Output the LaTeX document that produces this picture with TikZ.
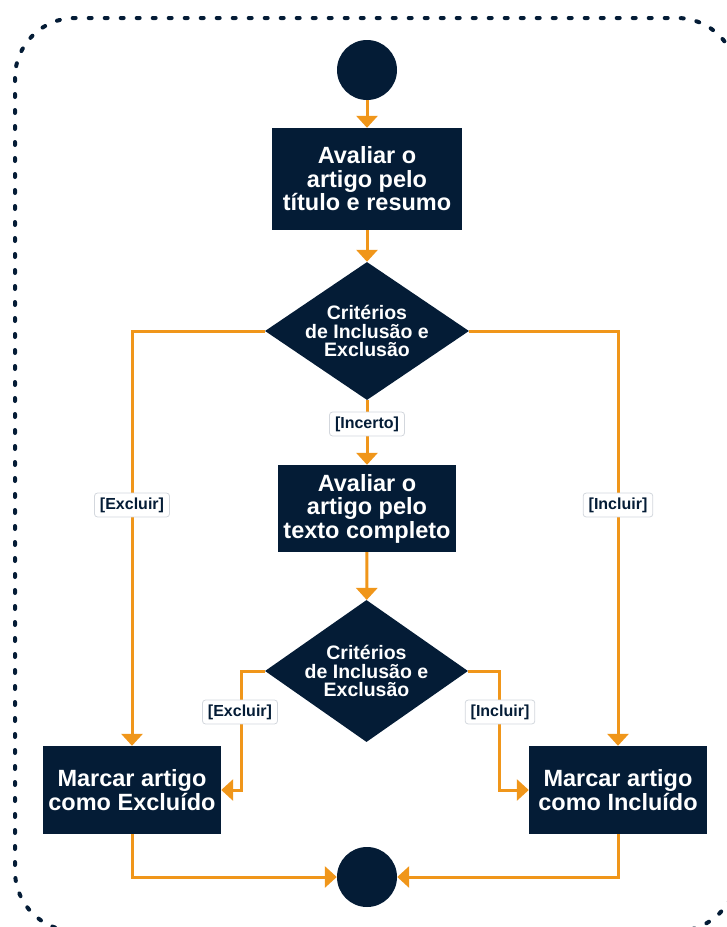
\documentclass[tikz,border=0pt]{standalone}
\usepackage{fontspec}
\setmainfont{Liberation Sans}
\usetikzlibrary{arrows.meta,shapes.geometric}
\definecolor{navy}{HTML}{041C36}
\definecolor{flow}{HTML}{F0961A}
\definecolor{tagedge}{HTML}{D3D7DD}
\begin{document}
\begin{tikzpicture}[x=1pt,y=-1pt,
  act/.style={rectangle, fill=navy, text=white, align=center, inner sep=0pt,
    font=\bfseries\fontsize{23.5}{23.5}\selectfont},
  decision/.style={diamond, fill=navy, inner sep=0pt},
  dtext/.style={text=white, align=center, inner sep=0pt,
    font=\bfseries\fontsize{19.5}{18.5}\selectfont},
  terminal/.style={circle, fill=navy, minimum size=60pt, inner sep=0pt},
  link/.style={draw=flow, line width=3pt, -{Triangle[length=12pt,width=21pt]}},
  tag/.style={fill=white, draw=tagedge, line width=0.8pt, rounded corners=3pt,
    text=navy, inner xsep=5.5pt, inner ysep=4.5pt,
    font=\bfseries\fontsize{16}{16}\selectfont}]
\useasboundingbox (0,0) rectangle (727,927);

% outer dashed frame
\draw[navy, line width=4pt, dash pattern=on 3pt off 13pt, line cap=round,
  rounded corners=60pt] (15,18) rectangle (737,931);

% nodes
\node[terminal] (start) at (367,70) {};
\node[act, minimum width=190pt, minimum height=102pt] (a1) at (367,179)
  {Avaliar o\\artigo pelo\\título e resumo};
\node[decision, minimum width=204pt, minimum height=138pt] (d1) at (367,331) {};
\node[dtext] (d1t) at (d1) {Critérios\\de Inclusão e\\Exclusão};
\node[act, minimum width=178pt, minimum height=87pt] (a2) at (367,508.5)
  {Avaliar o\\artigo pelo\\texto completo};
\node[decision, minimum width=203pt, minimum height=142pt] (d2) at (366.5,671) {};
\node[dtext] (d2t) at (d2) {Critérios\\de Inclusão e\\Exclusão};
\node[act, minimum width=178pt, minimum height=88pt] (ex) at (132,790)
  {Marcar artigo\\como Excluído};
\node[act, minimum width=178pt, minimum height=88pt] (inc) at (618,790)
  {Marcar artigo\\como Incluído};
\node[terminal] (end) at (367,877) {};

% connectors
\draw[link] (start) -- (a1);
\draw[link] (a1) -- (d1);
\draw[link] (d1.south) -- (a2.north);
\draw[link] (d1.west) -| (ex.north);
\draw[link] (d1.east) -| (inc.north);
\draw[link] (a2) -- (d2);
\draw[link] (d2.west) -| ([xshift=20pt]ex.east) -- (ex.east);
\draw[link] (d2.east) -| ([xshift=-29pt]inc.west) -- (inc.west);
\draw[link] (ex.south) |- (end.west);
\draw[link] (inc.south) |- (end.east);

% guard labels
\node[tag] (g1) at (367,424) {[Incerto]};
\node[tag] (g2) at (132,505) {[Excluir]};
\node[tag] (g3) at (618,505) {[Incluir]};
\node[tag] (g4) at (240,712) {[Excluir]};
\node[tag] (g5) at (500,712) {[Incluir]};
\end{tikzpicture}
\end{document}
